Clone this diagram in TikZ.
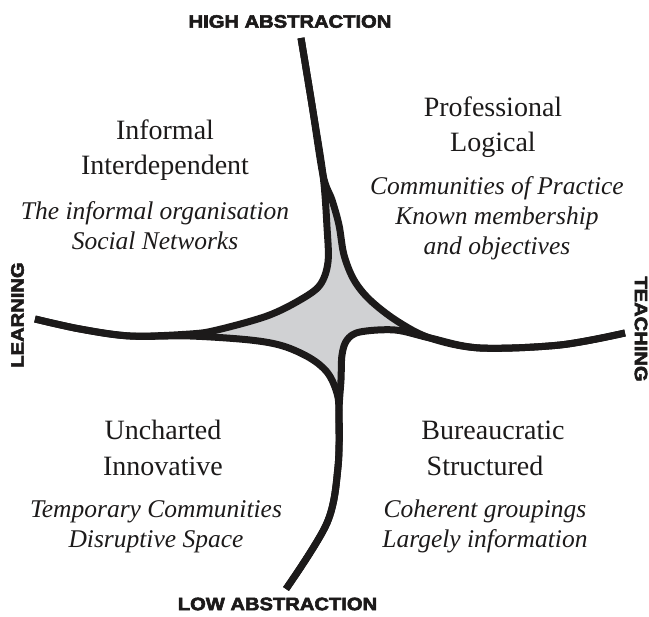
\documentclass[tikz,border=0pt]{standalone}
\usepackage{fontspec}
\setmainfont{Liberation Serif}
\newfontfamily\axisfont{Liberation Sans}[BoldFeatures={FakeBold=3}]
\newcommand\axislabel[1]{\scalebox{1.12}[1]{\axisfont\bfseries #1}}

\definecolor{corefill}{RGB}{208,209,211}
\definecolor{ink}{RGB}{28,26,26}

\tikzset{
  band/.style={line width=7pt, line join=round, draw=ink},
  head/.style={font=\fontsize{28}{34}\selectfont, anchor=base, inner sep=0pt, text=ink},
  note/.style={font=\itshape\fontsize{25.5}{30}\selectfont, anchor=base, inner sep=0pt, text=ink},
  axis/.style={font=\fontsize{18}{18}\selectfont, inner sep=0pt, text=ink},
  curve/.style={smooth, tension=0.55}
}

\begin{document}
\begin{tikzpicture}[x=1pt, y=-1pt]
\useasboundingbox (0,0) rectangle (649,617);

% shaded core between the four branches
\fill[corefill] (324,185) -- (327,227) -- (328,262) -- (320,285) -- (300,300)
  -- (267,316) -- (217,330) -- (195,334) -- (250,340) -- (283,346)
  -- (310,358) -- (327,372) -- (336,390) -- (340,400) -- (341,380)
  -- (342,355) -- (347,340) -- (360,332) -- (395,330) -- (420,335)
  -- (397,321) -- (370,300) -- (354,280) -- (344,255) -- (339,225)
  -- (332,200) -- cycle;

% top arm to left arm
\draw[band] plot[curve] coordinates {(301,38) (312,105) (323,175) (327,227)
  (328,262) (320,285) (300,300) (267,316) (217,330) (190,334) (130,336)
  (80,329) (35,319)};
% top arm to right arm
\draw[band] plot[curve] coordinates {(301,38) (312,105) (323,175) (332,200)
  (339,225) (344,255) (354,280) (370,300) (397,321) (430,338) (480,348)
  (560,345) (625,333)};
% left arm to bottom arm
\draw[band] plot[curve] coordinates {(35,319) (80,329) (130,336) (190,336)
  (250,340) (283,346) (310,358) (327,372) (336,390) (339,410) (338,467)
  (327,523) (286,589)};
% bottom arm to right arm
\draw[band] plot[curve] coordinates {(286,589) (327,523) (338,467) (339,410)
  (341,380) (342,355) (347,340) (360,332) (395,330) (430,338) (480,348)
  (560,345) (625,333)};

% axis labels
\node[axis] (high) at (290,21.5) {\axislabel{HIGH ABSTRACTION}};
\node[axis] (low) at (277.5,604) {\axislabel{LOW ABSTRACTION}};
\node[axis, rotate=90] (learn) at (17.5,315) {\axislabel{LEARNING}};
\node[axis, rotate=-90] (teach) at (641,329) {\axislabel{TEACHING}};

% upper left quadrant
\node[head] (tl1) at (165,140) {Informal};
\node[head] (tl2) at (165,175) {Interdependent};
\node[note] (tl3) at (155,220) {The informal organisation};
\node[note] (tl4) at (155,250) {Social Networks};

% upper right quadrant
\node[head] (tr1) at (493,117) {Professional};
\node[head] (tr2) at (493,152) {Logical};
\node[note] (tr3) at (497,195) {Communities of Practice};
\node[note] (tr4) at (497,225) {Known membership};
\node[note] (tr5) at (497,255) {and objectives};

% lower left quadrant
\node[head] (bl1) at (163,440) {Uncharted};
\node[head] (bl2) at (163,476) {Innovative};
\node[note] (bl3) at (156,518) {Temporary Communities};
\node[note] (bl4) at (156,548) {Disruptive Space};

% lower right quadrant
\node[head] (br1) at (493,440) {Bureaucratic};
\node[head] (br2) at (485,476) {Structured};
\node[note] (br3) at (485,518) {Coherent groupings};
\node[note] (br4) at (485,548) {Largely information};
\end{tikzpicture}
\end{document}
